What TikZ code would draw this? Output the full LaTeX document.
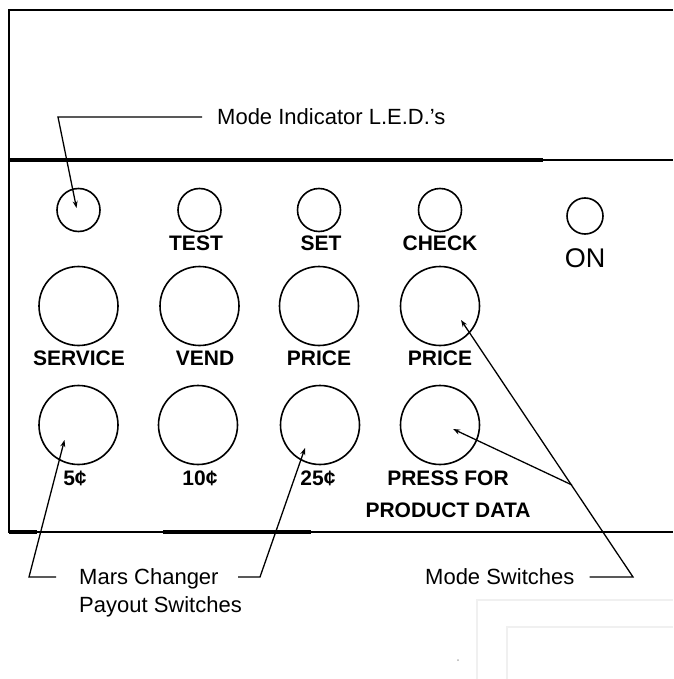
\documentclass[tikz,border=0pt]{standalone}
\usepackage{fontspec}
\setmainfont{Liberation Sans}
\usetikzlibrary{arrows.meta,calc}
\tikzset{
  led/.style={circle,draw,line width=1.6pt,minimum size=43pt,inner sep=0pt},
  ledsmall/.style={led,minimum size=36pt},
  knob/.style={circle,draw,line width=1.6pt,minimum size=79pt,inner sep=0pt},
  tag/.style={font=\bfseries\fontsize{21}{24}\selectfont,inner sep=0pt},
  note/.style={font=\fontsize{22}{28}\selectfont,align=left,inner sep=0pt},
  leader/.style={line width=1.3pt},
  pointer/.style={leader,-{Stealth[length=7pt,width=5pt]}}
}
\begin{document}
\begin{tikzpicture}[x=1pt,y=-1pt,>=Stealth]
  \useasboundingbox (0,0) rectangle (673,679);
  \draw[line width=2pt] (673,10) -- (9,10) -- (9,532) -- (673,532);
  \draw[line width=1.4pt] (9,160) -- (673,160);
  \draw[line width=4pt] (9,160) -- (543,160);
  \draw[line width=4pt] (163,532) -- (311,532);
  \draw[line width=4pt] (9,532) -- (37,532);
  \draw[gray!12,line width=2pt] (477,679) -- (477,600) -- (673,600);
  \draw[gray!12,line width=2pt] (507,679) -- (507,627) -- (673,627);
  \fill[gray!60] (458,660) circle (1pt);

  \node[led] (mode) at (78.5,210) {};
  \node[led] (test) at (199.5,210) {};
  \node[led] (set) at (319,210) {};
  \node[led] (check) at (440,210) {};
  \node[ledsmall] (on) at (585,216) {};
  \node[tag] at (196,243) {TEST};
  \node[tag] at (321,243) {SET};
  \node[tag] at (440,243) {CHECK};
  \node[font=\fontsize{27}{27}\selectfont,inner sep=0pt] at (585,258) {ON};

  \node[knob] (service) at (78.5,306) {};
  \node[knob] (vend) at (199.5,306) {};
  \node[knob] (price) at (319,306) {};
  \node[knob] (pricecheck) at (440,306) {};
  \node[tag] at (79,358) {SERVICE};
  \node[tag] at (205,358) {VEND};
  \node[tag] at (319,358) {PRICE};
  \node[tag] at (440,358) {PRICE};

  \node[knob] (five) at (78.5,425) {};
  \node[knob] (ten) at (198,425) {};
  \node[knob] (quarter) at (320,425) {};
  \node[knob] (product) at (440,425) {};
  \node[tag] at (75,478) {5¢};
  \node[tag] at (200,478) {10¢};
  \node[tag] at (318,478) {25¢};
  \node[tag] at (448,478) {PRESS FOR};
  \node[tag] at (448,510) {PRODUCT DATA};

  \node[note,anchor=west] (indicator) at (217,117) {Mode Indicator L.E.D.'s};
  \node[note,anchor=north west] (mars) at (79,568) {Mars Changer\\Payout Switches};
  \node[note,anchor=west] (modesw) at (425,577) {Mode Switches};

  \draw[pointer] ($(indicator.west)+(-15,0)$) -- (58,117) -- ($(mode.center)+(-2,-2)$);
  \draw[pointer] (56,577) -- (29,577) -- ($(five.center)+(-14,15)$);
  \draw[pointer] (238,577) -- (260,577) -- ($(quarter.center)+(-15,23)$);
  \coordinate (fork) at (572,485);
  \draw[pointer] ($(modesw.east)+(15,0)$) -- (633,577) -- ($(pricecheck.center)+(21,14)$);
  \draw[pointer] (fork) -- ($(product.center)+(13,4)$);
\end{tikzpicture}
\end{document}
